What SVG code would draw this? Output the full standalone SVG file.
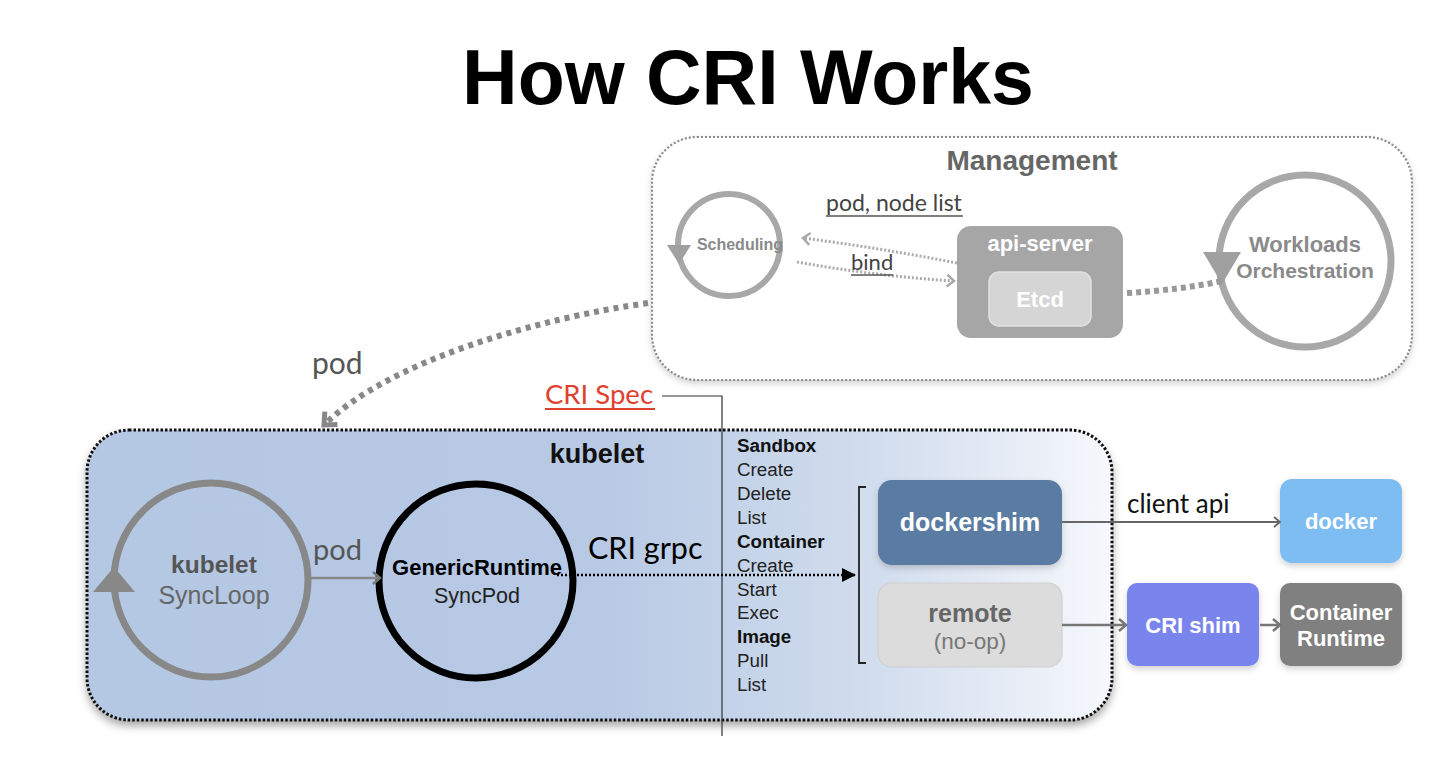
<svg xmlns="http://www.w3.org/2000/svg" width="1436" height="764" viewBox="0 0 1436 764">
<defs>
<style>
.hv{font-family:"Liberation Sans",Arial,sans-serif}
.cb{font-family:Lato,"Open Sans",sans-serif}
.b{font-weight:bold}
.w{fill:#fff}
.mid{text-anchor:middle}
.list{font-family:"Liberation Sans",Arial,sans-serif;font-size:18.8px;fill:#222}
.listb{font-weight:bold;fill:#111}
</style>
<linearGradient id="kg" gradientUnits="userSpaceOnUse" x1="87" y1="0" x2="1112" y2="0">
<stop offset="0" stop-color="#b4c7e3"/>
<stop offset="0.5" stop-color="#b7c9e4"/>
<stop offset="0.78" stop-color="#d3deee"/>
<stop offset="1" stop-color="#f6f8fc"/>
</linearGradient>
<filter id="sh" x="-10%" y="-10%" width="120%" height="130%">
<feDropShadow dx="0" dy="5" stdDeviation="4" flood-color="#000" flood-opacity="0.35"/>
</filter>
<filter id="sh2" x="-10%" y="-10%" width="120%" height="130%">
<feDropShadow dx="0" dy="3" stdDeviation="3" flood-color="#000" flood-opacity="0.18"/>
</filter>
<marker id="chevGray" markerUnits="userSpaceOnUse" markerWidth="24" markerHeight="24" refX="12" refY="12" orient="auto">
<path d="M2,3 L12,12 L2,21" fill="none" stroke="#888" stroke-width="5"/>
</marker>
<marker id="chevLight" markerUnits="userSpaceOnUse" markerWidth="16" markerHeight="16" refX="10" refY="8" orient="auto">
<path d="M3,2 L10,8 L3,14" fill="none" stroke="#aaa" stroke-width="2.5"/>
</marker>
<marker id="chevMid" markerUnits="userSpaceOnUse" markerWidth="16" markerHeight="16" refX="10" refY="8" orient="auto">
<path d="M3,2 L10,8 L3,14" fill="none" stroke="#777" stroke-width="2.5"/>
</marker>
<marker id="chevThin" markerUnits="userSpaceOnUse" markerWidth="16" markerHeight="16" refX="10" refY="8" orient="auto">
<path d="M4,3 L10,8 L4,13" fill="none" stroke="#666" stroke-width="1.8"/>
</marker>
<marker id="triBlack" markerUnits="userSpaceOnUse" markerWidth="20" markerHeight="20" refX="16" refY="10" orient="auto">
<path d="M2,3 L16,10 L2,17 Z" fill="#000"/>
</marker>
</defs>

<rect width="1436" height="764" fill="#fff"/>

<text class="hv b mid" x="748" y="104" font-size="77" fill="#000">How CRI Works</text>

<g id="management">
<rect x="652" y="137" width="760" height="243" rx="45" fill="#fff" stroke="#8a8a8a" stroke-width="2.2" stroke-dasharray="2 2" filter="url(#sh2)"/>
<text class="hv b mid" x="1032" y="170" font-size="28" fill="#666">Management</text>
</g>

<g id="scheduling">
<circle cx="729" cy="245" r="51" fill="none" stroke="#a8a8a8" stroke-width="6"/>
<polygon points="667,245 691,245 679,264" fill="#a0a0a0"/>
<text class="hv b mid" x="740" y="250" font-size="16" fill="#8a8a8a">Scheduling</text>
</g>

<g id="api-server">
<rect x="957" y="226" width="166" height="112" rx="14" fill="#a6a6a6"/>
<text class="hv b w mid" x="1040" y="251" font-size="22">api-server</text>
<g id="etcd">
<rect x="989" y="272" width="102" height="54" rx="10" fill="#d5d5d5" stroke="#e2e2e2" stroke-width="1.5"/>
<text class="hv b w mid" x="1040" y="307" font-size="22">Etcd</text>
</g>
</g>

<g id="workloads">
<circle cx="1305" cy="261" r="86" fill="none" stroke="#a8a8a8" stroke-width="7"/>
<polygon points="1203,252 1241,252 1222,284" fill="#a0a0a0"/>
<text class="hv b mid" x="1305" y="252" font-size="22" fill="#8a8a8a">Workloads</text>
<text class="hv b mid" x="1305" y="278" font-size="21" fill="#8a8a8a">Orchestration</text>
</g>

<g id="kubelet">
<rect x="87" y="430" width="1025" height="290" rx="42" fill="url(#kg)" stroke="#111" stroke-width="3" stroke-dasharray="2.5 2" filter="url(#sh)"/>
<text class="hv b mid" x="597" y="463" font-size="27" fill="#111">kubelet</text>
</g>

<g id="syncloop">
<circle cx="211" cy="580" r="97" fill="none" stroke="#888" stroke-width="7"/>
<polygon points="93,592 135,592 114,567" fill="#888"/>
<text class="hv b mid" x="214" y="573" font-size="24.5" fill="#555">kubelet</text>
<text class="hv mid" x="214" y="604" font-size="25" fill="#666">SyncLoop</text>
</g>

<g id="genericruntime">
<circle cx="476" cy="581" r="97" fill="none" stroke="#000" stroke-width="7"/>
<text class="hv b mid" x="477" y="575" font-size="22" fill="#000">GenericRuntime</text>
<text class="hv mid" x="477" y="603" font-size="21.5" fill="#222">SyncPod</text>
</g>

<g id="cri-spec">
<text class="cb" x="545" y="404" font-size="27.5" fill="#e0412f">CRI Spec</text>
<line x1="545" y1="409" x2="655" y2="409" stroke="#e0412f" stroke-width="2"/>
<polyline points="662,396 722,396 722,736" fill="none" stroke="#333" stroke-width="1.2"/>
<text class="list listb" x="737" y="452">Sandbox</text>
<text class="list" x="737" y="476">Create</text>
<text class="list" x="737" y="500">Delete</text>
<text class="list" x="737" y="524">List</text>
<text class="list listb" x="737" y="548">Container</text>
<text class="list" x="737" y="572">Create</text>
<text class="list" x="737" y="596">Start</text>
<text class="list" x="737" y="619">Exec</text>
<text class="list listb" x="737" y="643">Image</text>
<text class="list" x="737" y="667">Pull</text>
<text class="list" x="737" y="691">List</text>
<polyline points="866,487 859,487 859,663 866,663" fill="none" stroke="#222" stroke-width="1.8"/>
</g>

<g id="dockershim">
<rect x="878" y="480" width="184" height="85" rx="14" fill="#5a7ba2" filter="url(#sh2)"/>
<text class="hv b w mid" x="970" y="531" font-size="25">dockershim</text>
</g>

<g id="remote">
<rect x="878" y="583" width="184" height="84" rx="14" fill="#dcdcdc" stroke="#d0d0d0" stroke-width="1.2"/>
<text class="hv b mid" x="970" y="622" font-size="25" fill="#666">remote</text>
<text class="hv mid" x="970" y="649" font-size="22.5" fill="#777">(no-op)</text>
</g>

<g id="docker">
<rect x="1280" y="479" width="122" height="84" rx="12" fill="#7ebdf1" filter="url(#sh2)"/>
<text class="hv b w mid" x="1341" y="529" font-size="22">docker</text>
</g>

<g id="cri-shim">
<rect x="1127" y="583" width="132" height="83" rx="10" fill="#7985ec" filter="url(#sh2)"/>
<text class="hv b w mid" x="1193" y="633" font-size="22">CRI shim</text>
</g>

<g id="container-runtime">
<rect x="1280" y="583" width="122" height="83" rx="10" fill="#808080" filter="url(#sh2)"/>
<text class="hv b w mid" x="1341" y="620" font-size="22">Container</text>
<text class="hv b w mid" x="1341" y="646" font-size="22">Runtime</text>
</g>

<g id="connectors">
<path d="M648,303 C540,318 390,360 324,425" fill="none" stroke="#888" stroke-width="6" stroke-dasharray="5 5" marker-end="url(#chevGray)"/>
<text class="cb" x="312" y="374" font-size="30" fill="#555">pod</text>

<path d="M957,263 Q880,248 803,238" fill="none" stroke="#aaa" stroke-width="3" stroke-dasharray="2 2" marker-end="url(#chevLight)"/>
<path d="M797,262 Q875,276 954,281" fill="none" stroke="#aaa" stroke-width="3" stroke-dasharray="2 2" marker-end="url(#chevLight)"/>
<text class="cb" x="826" y="211" font-size="23" fill="#444">pod, node list</text>
<line x1="826" y1="216" x2="963" y2="216" stroke="#555" stroke-width="1.3"/>
<text class="cb" x="851" y="270" font-size="22" fill="#444">bind</text>
<line x1="851" y1="275" x2="893" y2="275" stroke="#555" stroke-width="1.3"/>

<path d="M1127,293 Q1180,290 1222,281" fill="none" stroke="#999" stroke-width="6" stroke-dasharray="5 4"/>

<line x1="310" y1="578" x2="380" y2="578" stroke="#888" stroke-width="2.5" marker-end="url(#chevMid)"/>
<text class="cb" x="313" y="560" font-size="29" fill="#555">pod</text>

<line x1="557" y1="575" x2="856" y2="575" stroke="#000" stroke-width="2.5" stroke-dasharray="2 2" marker-end="url(#triBlack)"/>
<text class="cb" x="588" y="559" font-size="30.5" fill="#000">CRI grpc</text>

<line x1="1062" y1="522" x2="1280" y2="522" stroke="#666" stroke-width="1.8" marker-end="url(#chevThin)"/>
<text class="cb" x="1127" y="513" font-size="26" fill="#111">client api</text>

<line x1="1062" y1="625" x2="1126" y2="625" stroke="#777" stroke-width="2.5" marker-end="url(#chevMid)"/>
<line x1="1260" y1="625" x2="1280" y2="625" stroke="#777" stroke-width="2.5" marker-end="url(#chevMid)"/>
</g>
</svg>
